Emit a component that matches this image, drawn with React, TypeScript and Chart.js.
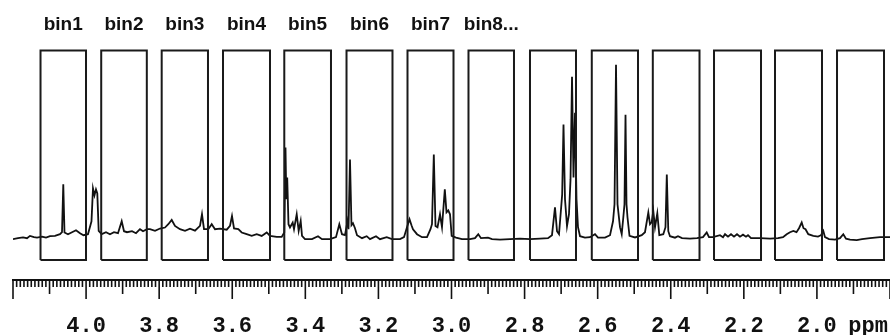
import React, { useEffect, useRef } from "react";
import { Chart, registerables } from "chart.js";

Chart.register(...registerables);

// Spectrum trace: chemical shift (ppm) and intensity (arbitrary units, baseline = 0)
const SHIFT_PPM = [
  4.2, 4.1863, 4.1726, 4.1617, 4.1535, 4.1425, 4.1343, 4.1206, 4.1097, 4.0987,
  4.0851, 4.0714, 4.0659, 4.0624, 4.0591, 4.0495, 4.0385, 4.0276, 4.0166, 4.0071,
  3.9948, 3.9852, 3.9811, 3.977, 3.9729, 3.9693, 3.9655, 3.9573, 3.9455, 3.9346,
  3.9236, 3.9127, 3.9025, 3.8962, 3.888, 3.8743, 3.8634, 3.8525, 3.8442, 3.8333,
  3.8251, 3.8114, 3.7977, 3.784, 3.775, 3.7657, 3.7567, 3.743, 3.7293, 3.7156,
  3.7019, 3.6883, 3.6828, 3.6773, 3.6655, 3.6562, 3.6472, 3.6335, 3.6152, 3.6062,
  3.6007, 3.5952, 3.5834, 3.5741, 3.5605, 3.5468, 3.5331, 3.5194, 3.5057, 3.4967,
  3.4784, 3.4647, 3.4576, 3.4543, 3.4521, 3.4496, 3.4461, 3.442, 3.4346, 3.431,
  3.4236, 3.4182, 3.4127, 3.4091, 3.4009, 3.3818, 3.3653, 3.3544, 3.3325, 3.3161,
  3.307, 3.2997, 3.2915, 3.2846, 3.2819, 3.2778, 3.2737, 3.2696, 3.2641, 3.2586,
  3.2449, 3.2321, 3.223, 3.2066, 3.1957, 3.1773, 3.1628, 3.1409, 3.13, 3.1218,
  3.1149, 3.1095, 3.1054, 3.0944, 3.0807, 3.067, 3.0575, 3.0534, 3.0484, 3.0438,
  3.0383, 3.0315, 3.026, 3.0183, 3.0137, 3.0088, 3.0041, 2.9995, 2.9877, 2.9713,
  2.9494, 2.9357, 2.9267, 2.9193, 2.9001, 2.8892, 2.8673, 2.8399, 2.8125, 2.7852,
  2.7578, 2.7359, 2.725, 2.7168, 2.7113, 2.7058, 2.7003, 2.6971, 2.6935, 2.6894,
  2.6839, 2.6785, 2.6743, 2.6702, 2.6661, 2.662, 2.6579, 2.6538, 2.6483, 2.6347,
  2.621, 2.6073, 2.5991, 2.5799, 2.5662, 2.558, 2.5539, 2.5498, 2.5457, 2.5389,
  2.5342, 2.5298, 2.5266, 2.5238, 2.5211, 2.5184, 2.5129, 2.4978, 2.4795, 2.4705,
  2.4614, 2.4568, 2.4521, 2.4478, 2.4431, 2.4368, 2.4313, 2.4204, 2.4144, 2.4108,
  2.4067, 2.4021, 2.3884, 2.3802, 2.3692, 2.3473, 2.3282, 2.3118, 2.3016, 2.2953,
  2.2844, 2.2652, 2.257, 2.2515, 2.2433, 2.2351, 2.2269, 2.2187, 2.2105, 2.2023,
  2.1941, 2.1886, 2.1804, 2.1558, 2.1284, 2.1065, 2.0928, 2.0827, 2.0737, 2.0646,
  2.0559, 2.049, 2.0416, 2.0367, 2.0312, 2.0236, 2.0099, 1.997, 1.9888, 1.9825,
  1.9779, 1.9669, 1.9505, 1.9368, 1.9278, 1.9204, 1.9095, 1.8911, 1.8766, 1.8547,
  1.8411, 1.8274, 1.8,
];

const INTENSITY = [
  0, 1, 1.7, 1, 3.3, 2, 1.5, 2.5, 1.5, 3,
  3.3, 5, 7, 55, 6.7, 5, 7, 9, 6, 4,
  5, 18, 51, 44, 50, 46, 8.3, 5, 7, 5,
  7, 6, 18, 8, 7, 8, 6, 10, 8, 10,
  10, 8.3, 10.7, 11.7, 15, 19.3, 13.3, 10, 8.3, 10.5,
  8.5, 13.3, 25, 10, 10, 15, 10, 10.5, 9.5, 13.3,
  23.3, 10.7, 10, 6.7, 5, 3.3, 5, 3.3, 6.7, 3.3,
  2.3, 2.3, 6.7, 92, 40, 62, 15, 11.7, 16.7, 10,
  25, 8.3, 18.3, 3.3, 0, 0, 3, 0, 0, 2,
  15, 5, 4, 18, 10, 80, 14, 16, 11, 4,
  1, 3, 0, 3, 0, 2, 0, 0, 2, 12,
  20, 14, 10, 5, 2, 2, 10, 15, 85, 13.3,
  12, 25, 12, 50, 27, 29, 25, 3.3, 1.5, 0,
  0, 1, 5, 1, 1.5, 0, -0.5, 0, 0.5, 0,
  0.5, 1, 4, 32, 8, 5, 30, 45, 115, 40,
  13, 25, 60, 163, 62, 127, 40, 12, 3, 1.5,
  2, 5, 1.5, 1.5, 4, 18, 35, 175, 35, 12,
  5, 22, 35, 125, 35, 22, 3.3, 1.7, 4, 7,
  26.7, 15, 17, 28.3, 12, 26, 4, 5, 12, 65,
  8, 3, 1.5, 3, 1, 0.5, 1, 2, 6.7, 2,
  2, 4, 2, 5, 2.5, 5, 2.5, 5, 2.5, 4.5,
  2.5, 4, 1, 1, 0.5, 1, 2, 5, 7, 8.3,
  7, 11, 16.7, 11, 10, 5, 3.3, 2.5, 4, 8.3,
  2, 0, -0.5, 1, 5, 0.5, -0.5, -1, 0, 1,
  1.5, 2, 2,
];

// Integration bins (ppm edges) and their vertical extent (intensity units)
const BIN_START = [4.1247, 3.9586, 3.7931, 3.6253, 3.4576, 3.2873, 3.1204, 2.9535, 2.7852, 2.6161, 2.4491, 2.2816, 2.1147, 1.945];
const BIN_END = [4.0002, 3.8338, 3.6664, 3.4967, 3.3298, 3.1615, 2.9945, 2.829, 2.6593, 2.4896, 2.3213, 2.153, 1.9861, 1.8164];
const BIN_TOP = 189.5;
const BIN_BOTTOM = -21;
const BIN_LABELS = ["bin1", "bin2", "bin3", "bin4", "bin5", "bin6", "bin7", "bin8..."];

// Axis
const X_MIN = 1.8;
const X_MAX = 4.2;
const Y_MIN = -41;
const Y_MAX = 204;
const TICK_VALUES = [4.0, 3.8, 3.6, 3.4, 3.2, 3.0, 2.8, 2.6, 2.4, 2.2, 2.0];
const UNIT_LABEL = "ppm";
const UNIT_POS = 1.86;

const tickMarks = {
  id: "tickMarks",
  afterDraw(chart: any) {
    const s = chart.scales.x;
    const ctx = chart.ctx;
    const y0 = chart.chartArea.bottom;
    ctx.save();
    ctx.strokeStyle = "#111";
    ctx.lineWidth = 1.6;
    const lo = Math.round(s.min * 100);
    const hi = Math.round(s.max * 100);
    for (let i = lo; i <= hi; i++) {
      const px = s.getPixelForValue(i / 100);
      const len = i % 20 === 0 ? 19 : i % 10 === 0 ? 14 : 7;
      ctx.beginPath();
      ctx.moveTo(px, y0);
      ctx.lineTo(px, y0 + len);
      ctx.stroke();
    }
    ctx.restore();
  },
};

export default function App() {
  const ref = useRef<HTMLCanvasElement | null>(null);

  useEffect(() => {
    if (!ref.current) return;
    const spectrum = SHIFT_PPM.map((x, i) => ({ x, y: INTENSITY[i] }));
    const boxes: any[] = [];
    BIN_START.forEach((s, i) => {
      const e = BIN_END[i];
      boxes.push(
        { x: s, y: BIN_BOTTOM },
        { x: s, y: BIN_TOP },
        { x: e, y: BIN_TOP },
        { x: e, y: BIN_BOTTOM },
        { x: s, y: BIN_BOTTOM },
        { x: (s + e) / 2, y: null }
      );
    });
    const labelPos = BIN_LABELS.map((_, i) => (BIN_START[i] + BIN_END[i]) / 2);

    const chart = new Chart(ref.current, {
      type: "line",
      data: {
        datasets: [
          {
            label: "bins",
            data: boxes,
            borderColor: "#1a1a1a",
            borderWidth: 2,
            pointRadius: 0,
            spanGaps: false,
            fill: false,
            tension: 0,
          },
          {
            label: "spectrum",
            data: spectrum,
            borderColor: "#111",
            borderWidth: 1.8,
            pointRadius: 0,
            fill: false,
            tension: 0,
          },
        ],
      },
      options: {
        responsive: false,
        animation: false,
        devicePixelRatio: 1,
        layout: { padding: { left: 13, right: 0, top: 14, bottom: 0 } },
        plugins: { legend: { display: false }, tooltip: { enabled: false } },
        scales: {
          x: {
            type: "linear",
            position: "bottom",
            min: X_MIN,
            max: X_MAX,
            reverse: true,
            grid: { display: false, drawTicks: true, tickLength: 37 },
            border: { display: true, color: "#111", width: 2 },
            afterBuildTicks: (scale: any) => {
              scale.ticks = [...TICK_VALUES.map((v) => ({ value: v })), { value: UNIT_POS }];
            },
            ticks: {
              autoSkip: false,
              maxRotation: 0,
              padding: 0,
              color: "#111",
              font: { family: "'Liberation Mono', 'Courier New', monospace", size: 22, weight: "bold", lineHeight: "18px" },
              callback: (v: any) => (Math.abs(Number(v) - UNIT_POS) < 1e-6 ? UNIT_LABEL : Number(v).toFixed(1)),
            },
          },
          xTop: {
            type: "linear",
            axis: "x",
            position: "top",
            min: X_MIN,
            max: X_MAX,
            reverse: true,
            grid: { display: false, drawTicks: false },
            border: { display: false },
            afterBuildTicks: (scale: any) => {
              scale.ticks = labelPos.map((v) => ({ value: v }));
            },
            ticks: {
              autoSkip: false,
              maxRotation: 0,
              padding: 0,
              color: "#111",
              font: { family: "'Liberation Sans', Arial, sans-serif", size: 19, weight: "bold", lineHeight: "22px" },
              callback: (v: any) => {
                const idx = labelPos.findIndex((p) => Math.abs(p - Number(v)) < 1e-6);
                return idx >= 0 ? BIN_LABELS[idx] : "";
              },
            },
          },
          y: {
            type: "linear",
            display: false,
            min: Y_MIN,
            max: Y_MAX,
          },
        },
      },
      plugins: [tickMarks],
    } as any);
    return () => chart.destroy();
  }, []);

  return (
    <div style={{ position: "fixed", left: 0, top: 0, width: 890, height: 335, background: "#fff" }}>
      <canvas ref={ref} width={890} height={335} style={{ display: "block" }} />
    </div>
  );
}
